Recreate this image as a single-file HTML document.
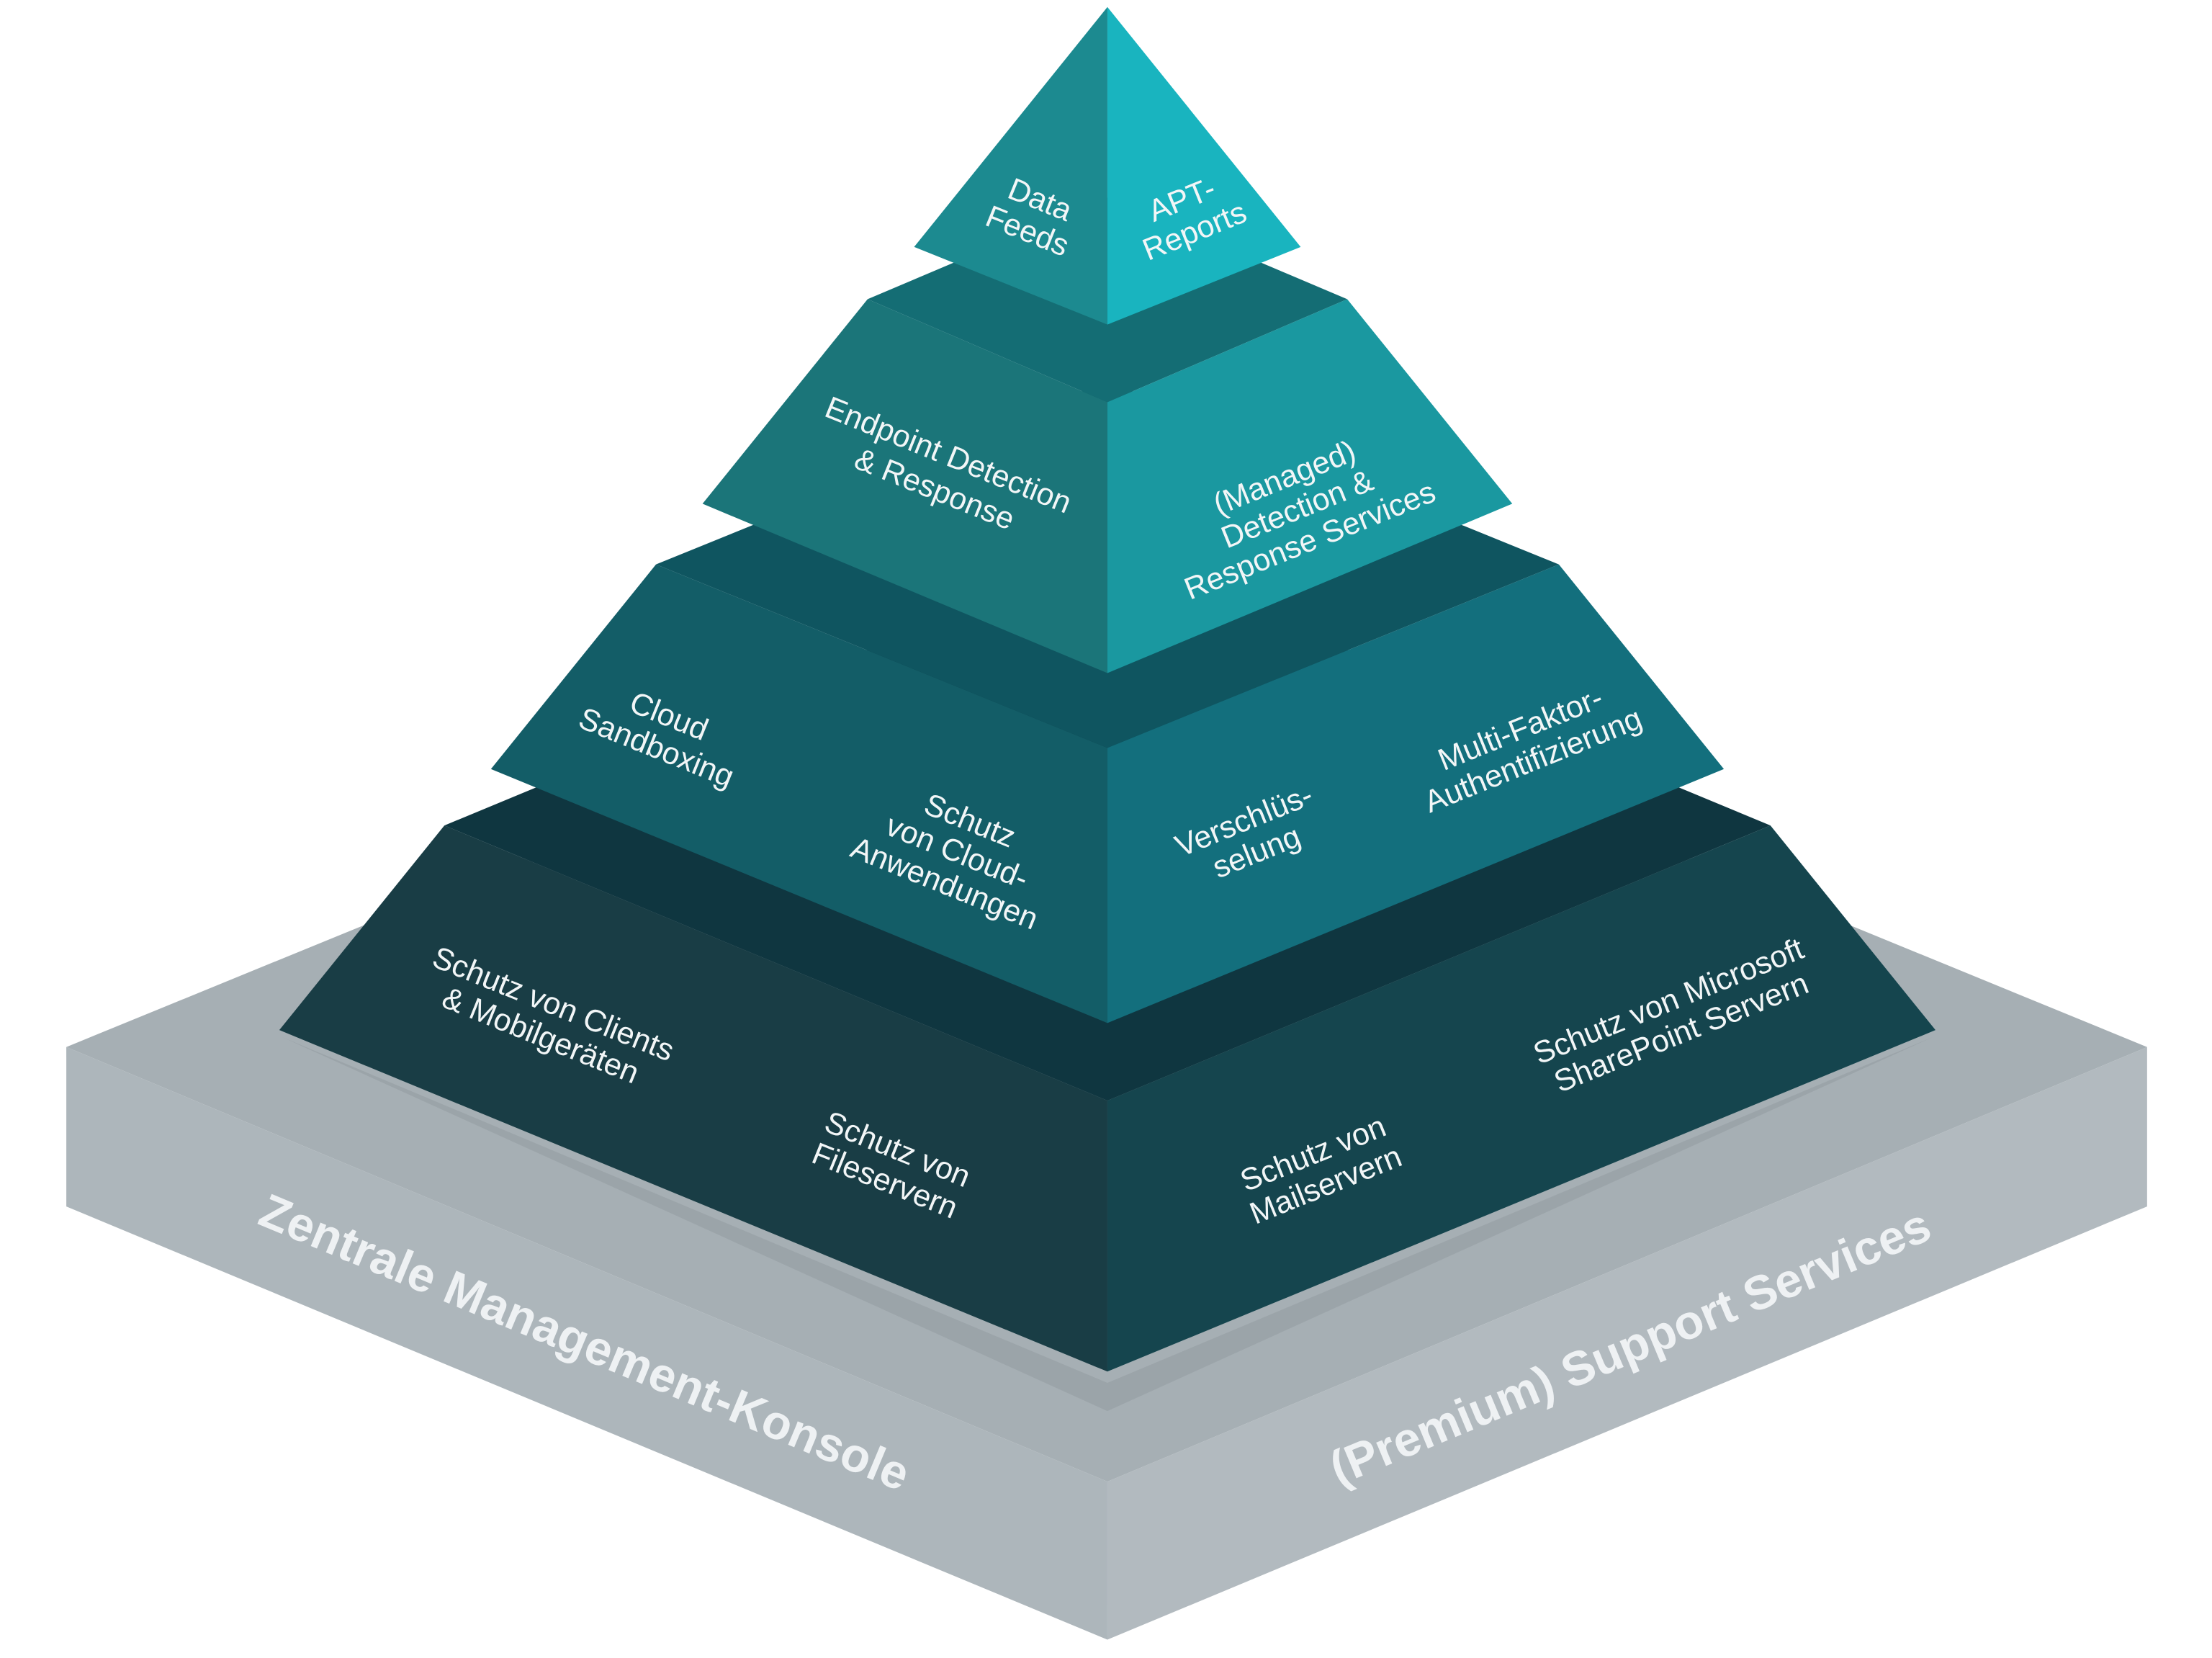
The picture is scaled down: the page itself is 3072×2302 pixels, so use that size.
<!DOCTYPE html>
<html><head><meta charset="utf-8"><style>
html,body{margin:0;padding:0;background:#fff;width:3072px;height:2302px;overflow:hidden}
svg{display:block}
text{font-family:"Liberation Sans",sans-serif;fill:#f2f6f7;text-anchor:middle}
</style></head><body>
<svg width="3072" height="2302" viewBox="0 0 1568 1175" xmlns="http://www.w3.org/2000/svg">
<defs>
<linearGradient id="sh" x1="0" y1="0" x2="0" y2="1">
<stop offset="0" stop-color="#8e979c"/><stop offset="1" stop-color="#a9b2b7"/></linearGradient>
</defs>
<!-- base slab -->
<polygon points="47,742 785,440 1522,742 785,1050" fill="#a6afb4"/>
<polygon points="200,735 785,980 1370,735 785,1000" fill="#949da2" opacity="0.6"/>
<polygon points="47,742 785,1050 785,1162 47,855" fill="#adb6bb"/>
<polygon points="785,1050 1522,742 1522,855 785,1162" fill="#b2babf"/>
<!-- bottom tier -->
<polygon points="315,585 785,390 1255,585 785,780" fill="#0f3640"/>
<polygon points="198,730 785,972 785,780 315,585" fill="#193d45"/>
<polygon points="785,972 1372,730 1255,585 785,780" fill="#15454e"/>
<!-- tier 3 -->
<polygon points="465,400 785,270 1105,400 785,530" fill="#0f5560"/>
<polygon points="348,545 785,725 785,530 465,400" fill="#135d67"/>
<polygon points="785,725 1222,545 1105,400 785,530" fill="#136f7d"/>
<!-- tier 2 -->
<polygon points="615,212 785,140 955,212 785,285" fill="#146d74"/>
<polygon points="498,357 785,477 785,285 615,212" fill="#1b7579"/>
<polygon points="785,477 1072,357 955,212 785,285" fill="#1a98a0"/>
<!-- tip -->
<polygon points="648,175 785,230 785,5" fill="#1c8a90"/>
<polygon points="785,230 922,175 785,5" fill="#19b4bf"/>

<g font-size="22">
<g transform="translate(733,152) rotate(22)"><text y="-4">Data</text><text y="20">Feeds</text></g>
<g transform="translate(842,152) rotate(-22)"><text y="-4">APT-</text><text y="20">Reports</text></g>
<g transform="translate(668,333) rotate(22)"><text y="-4">Endpoint Detection</text><text y="22">&amp; Response</text></g>
<g transform="translate(920,362) rotate(-22)"><text y="-18">(Managed)</text><text y="6">Detection &amp;</text><text y="30">Response Services</text></g>
<g transform="translate(470,518) rotate(22)"><text y="-4">Cloud</text><text y="20">Sandboxing</text></g>
<g transform="translate(678,605) rotate(22)"><text y="-18">Schutz</text><text y="6">von Cloud-</text><text y="30">Anwendungen</text></g>
<g transform="translate(886,592) rotate(-22)"><text y="-4">Verschlüs-</text><text y="20">selung</text></g>
<g transform="translate(1082,527) rotate(-22)"><text y="-4">Multi-Faktor-</text><text y="20">Authentifizierung</text></g>
<g transform="translate(388,722) rotate(22)"><text y="-4">Schutz von Clients</text><text y="20">&amp; Mobilgeräten</text></g>
<g transform="translate(632,825) rotate(22)"><text y="-4">Schutz von</text><text y="20">Fileservern</text></g>
<g transform="translate(935,828) rotate(-22)"><text y="-4">Schutz von</text><text y="20">Mailservern</text></g>
<g transform="translate(1187,720) rotate(-22)"><text y="-4">Schutz von Microsoft</text><text y="20">SharePoint Servern</text></g>
</g>
<g font-size="34" font-weight="bold" style="fill:#eef1f3">
<text transform="translate(410,962) rotate(22.6)" style="fill:#eef1f3">Zentrale Management-Konsole</text>
<text transform="translate(1160,965) rotate(-22.6)" style="fill:#eef1f3">(Premium) Support Services</text>
</g>
</svg>
</body></html>
